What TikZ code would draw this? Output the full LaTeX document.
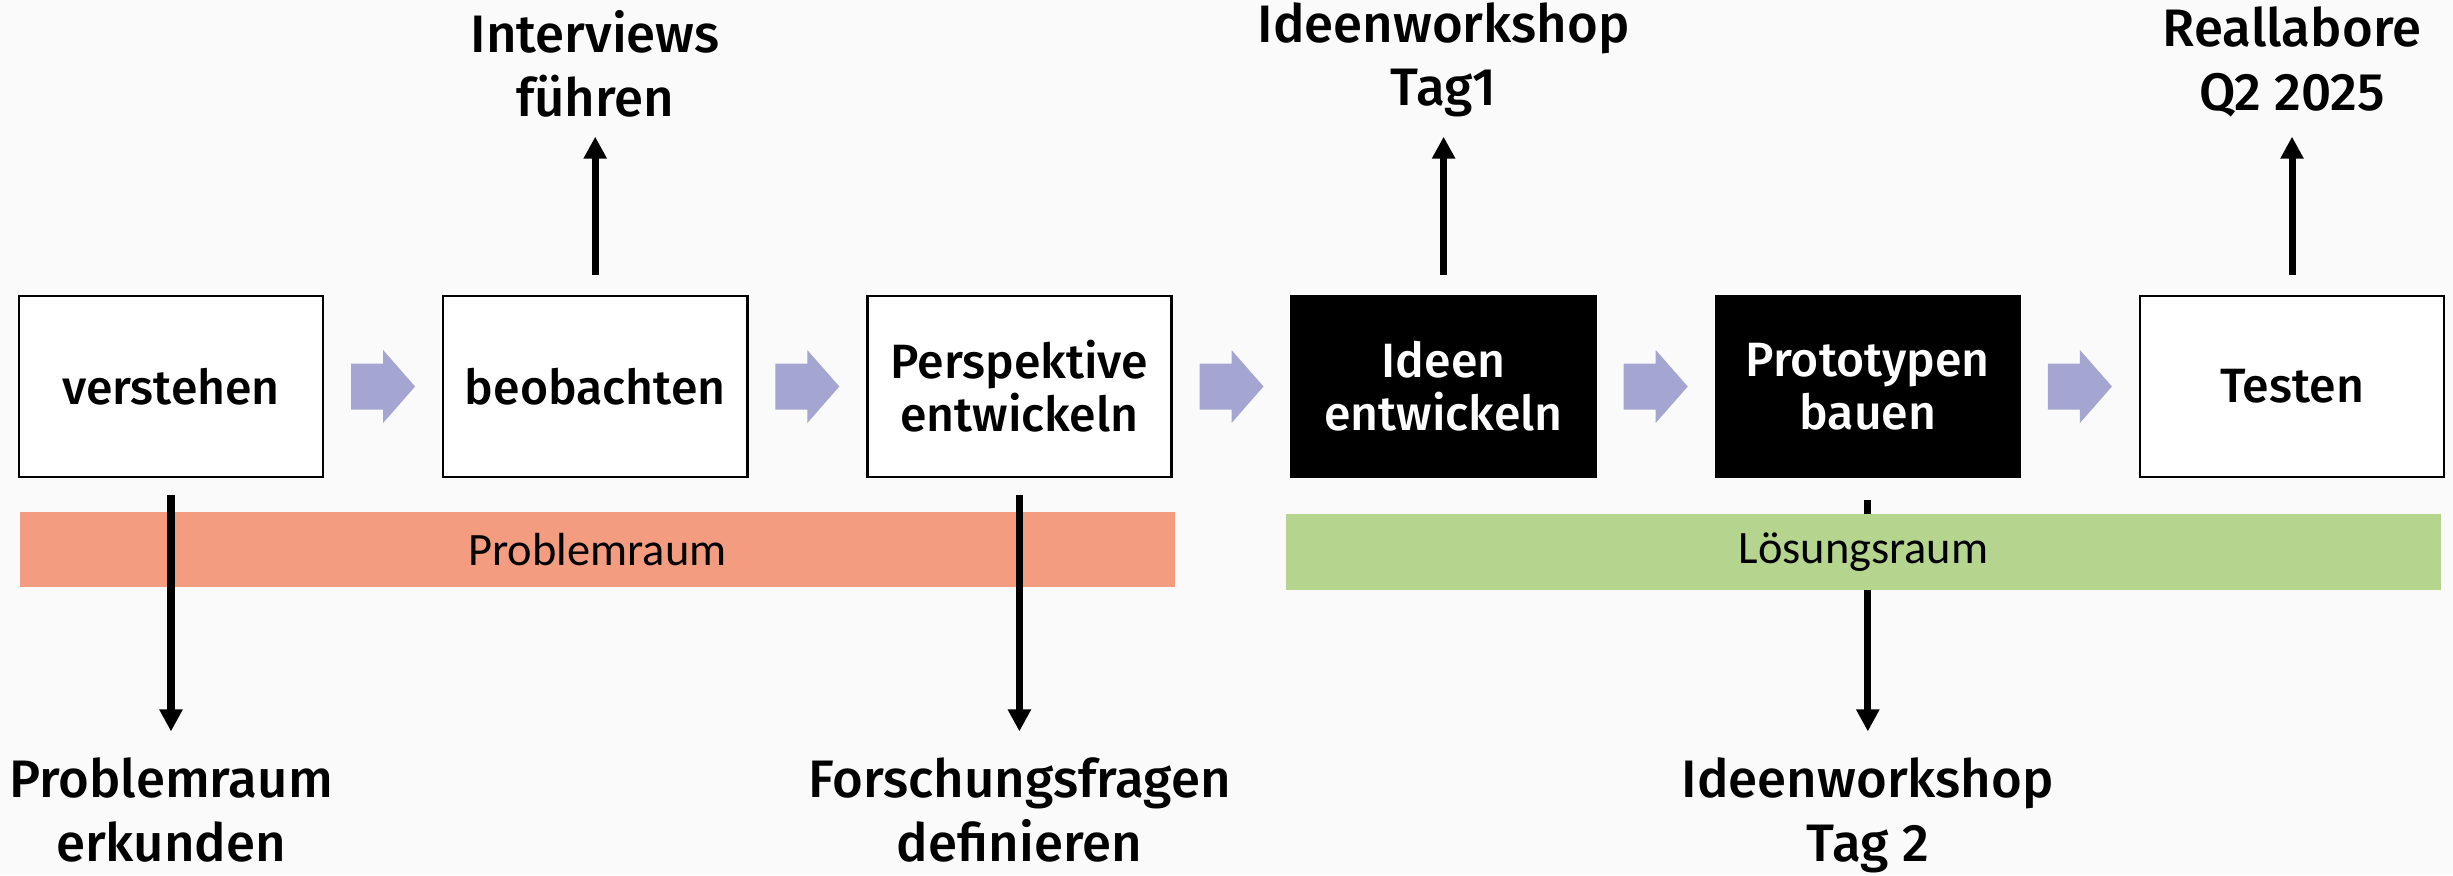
\documentclass[tikz,border=0pt]{standalone}
\usepackage{fontspec}
\setmainfont{Fira Sans}
\newfontfamily\medfont{Fira Sans Medium}
\newfontfamily\bandfont{Carlito}
\usetikzlibrary{positioning,arrows.meta}

\definecolor{slide}{RGB}{250,250,250}
\definecolor{flowblue}{RGB}{165,165,210}
\definecolor{probred}{RGB}{244,156,128}
\definecolor{solgreen}{RGB}{181,212,141}

\def\boxgap{1.175cm}
\def\upgap{1.77cm}
\def\downgap{2.79cm}

\begin{document}
\begin{tikzpicture}[
    x=0.01cm, y=-0.01cm,
    phase/.style={rectangle,draw,line width=0.7pt,fill=white,minimum width=3.04cm,
                  minimum height=1.81cm,align=center,
                  font=\medfont\fontsize{13.7}{15}\selectfont},
    dark/.style={phase,fill=black,text=white},
    note/.style={inner sep=0pt,align=center,font=\medfont\fontsize{15}{18}\selectfont},
    band/.style={rectangle,inner sep=0pt,minimum width=11.55cm,minimum height=0.75cm,
                 font=\bandfont\fontsize{13.2}{14}\selectfont},
    conn/.style={line width=2pt,-{Triangle[length=0.22cm,width=0.22cm]}},
    flow/.pic={\fill[flowblue] (-32,-23) -- (0,-23) -- (0,-36.5) -- (32,0)
                 -- (0,36.5) -- (0,23) -- (-32,23) -- cycle;},
]

\fill[slide] (0,0) rectangle (2453,875);
\useasboundingbox (0,0) rectangle (2453,875);

% the six phases
\node[phase] (ver) at (171,386.5) {verstehen};
\node[phase,right=\boxgap of ver] (beo) {beobachten};
\node[phase,right=\boxgap of beo] (per) {Perspektive\\entwickeln};
\node[dark,right=\boxgap of per] (ide) {Ideen\\entwickeln};
\node[dark,right=\boxgap of ide] (pro) {Prototypen\\bauen};
\node[phase,right=\boxgap of pro] (tes) {Testen};

\foreach \a/\b in {ver/beo,beo/per,per/ide,ide/pro,pro/tes}
    \path (\a) -- (\b) coordinate[midway] (f-\a) pic at (f-\a) {flow};

% notes above and below
\node[note,above=\upgap of beo] (intv) {Interviews\\führen};
\node[note,above=\upgap of ide] (tag1) {Ideenworkshop\\Tag1};
\node[note,above=\upgap of tes] (lab) {Reallabore\\Q2 2025};
\node[note,below=\downgap of ver] (erk) {Problemraum\\erkunden};
\node[note,below=\downgap of per] (fra) {Forschungsfragen\\definieren};
\node[note,below=\downgap of pro] (tag2) {Ideenworkshop\\Tag 2};

\node[band,fill=probred] (prob) at (597.5,549.5) {Problemraum};

\draw[conn,shorten <=0.2cm,shorten >=0.19cm] (beo) -- (intv);
\draw[conn,shorten <=0.2cm,shorten >=0.19cm] (ide) -- (tag1);
\draw[conn,shorten <=0.2cm,shorten >=0.19cm] (tes) -- (lab);
\draw[conn,shorten <=0.17cm,shorten >=0.26cm] (ver) -- (erk);
\draw[conn,shorten <=0.17cm,shorten >=0.26cm] (per) -- (fra);
\draw[conn,shorten <=0.22cm,shorten >=0.26cm] (pro) -- (tag2);

\node[band,fill=solgreen] (loes) at (1863.5,552) {Lösungsraum};

\end{tikzpicture}
\end{document}
